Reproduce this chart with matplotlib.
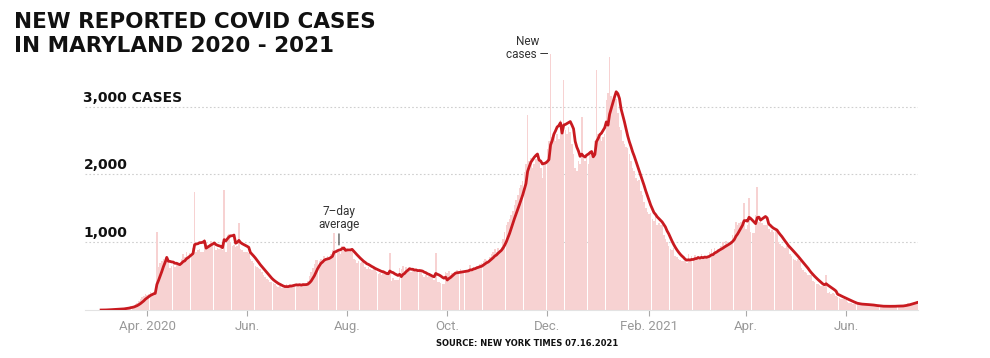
import matplotlib
matplotlib.use("Agg")
import matplotlib.pyplot as plt
import matplotlib.transforms as mtransforms
import pandas as pd

title = "NEW REPORTED COVID CASES\nIN MARYLAND 2020 - 2021"
source = "SOURCE: NEW YORK TIMES 07.16.2021"

start_date = "2020-03-04"

# daily new cases, one week per row
new_cases = [
    0, 0, 2, 3, 5, 10, 15,
    10, 12, 15, 14, 18, 20, 16,
    25, 35, 40, 45, 55, 60, 55,
    90, 110, 140, 160, 190, 200, 230,
    220, 240, 260, 250, 270, 250, 1150,
    640, 700, 720, 760, 690, 780, 750,
    620, 650, 700, 640, 690, 700, 690,
    760, 820, 780, 850, 800, 840, 820,
    920, 1740, 850, 880, 900, 850, 860,
    1050, 1000, 960, 980, 1020, 940, 980,
    880, 920, 900, 930, 890, 1770, 850,
    1100, 1120, 1000, 940, 960, 930, 950,
    1290, 900, 880, 850, 860, 850, 845,
    760, 720, 690, 650, 640, 620, 610,
    560, 520, 480, 460, 440, 420, 410,
    400, 380, 360, 340, 350, 330, 325,
    340, 380, 350, 390, 360, 370, 365,
    390, 360, 380, 350, 400, 370, 375,
    430, 500, 560, 620, 680, 740, 740,
    720, 760, 700, 800, 770, 790, 780,
    820, 880, 1130, 850, 870, 860, 820,
    950, 930, 880, 900, 860, 870, 875,
    760, 740, 700, 720, 690, 710, 720,
    640, 600, 630, 610, 590, 620, 615,
    560, 530, 550, 520, 560, 530, 530,
    500, 840, 430, 470, 440, 450, 440,
    620, 600, 650, 580, 630, 590, 600,
    560, 600, 570, 590, 560, 600, 580,
    520, 490, 510, 480, 500, 510, 490,
    450, 840, 420, 410, 400, 380, 390,
    560, 540, 570, 520, 550, 530, 545,
    590, 560, 600, 550, 580, 570, 575,
    610, 660, 600, 640, 620, 650, 630,
    680, 700, 720, 760, 740, 730, 780,
    820, 850, 900, 860, 920, 880, 930,
    1050, 1150, 1250, 1300, 1350, 1400, 1460,
    1550, 1620, 1700, 1800, 1850, 1900, 2040,
    2150, 2875, 2200, 2250, 2100, 2150, 2235,
    2300, 2250, 2100, 1950, 2150, 2200, 2380,
    2500, 3770, 2550, 2600, 2500, 2600, 2520,
    2800, 2700, 3390, 2650, 2600, 2700, 2620,
    2450, 2300, 2100, 2050, 2200, 2150, 2850,
    2250, 2200, 2300, 2150, 2350, 2270, 2300,
    2500, 3540, 2600, 2550, 2500, 2550, 2590,
    3100, 3200, 3740, 3150, 3100, 3130, 3120,
    2900, 2700, 2650, 2500, 2450, 2400, 2390,
    2300, 2200, 2100, 2050, 1950, 1900, 1920,
    1750, 1700, 1600, 1500, 1450, 1420, 1430,
    1350, 1320, 1400, 1250, 1280, 1250, 1250,
    1100, 1050, 1000, 950, 900, 880, 910,
    800, 780, 760, 740, 720, 730, 720,
    700, 820, 740, 790, 720, 810, 740,
    800, 760, 820, 750, 790, 780, 795,
    860, 900, 840, 920, 870, 900, 905,
    950, 1000, 960, 1020, 980, 1000, 1020,
    1100, 1200, 1300, 1250, 1280, 1300, 1320,
    1580, 1200, 1250, 1650, 1150, 1130, 1140,
    1400, 1820, 1300, 1350, 1280, 1250, 1260,
    1250, 1200, 1150, 1180, 1150, 1160, 1170,
    1000, 980, 950, 930, 920, 940, 930,
    820, 800, 760, 740, 730, 750, 720,
    620, 590, 560, 540, 520, 510, 510,
    430, 410, 390, 380, 370, 360, 355,
    340, 520, 250, 260, 240, 250, 240,
    200, 190, 180, 170, 160, 170, 155,
    120, 110, 100, 95, 90, 95, 90,
    85, 80, 75, 85, 80, 75, 80,
    70, 65, 60, 55, 60, 55, 55,
    50, 60, 55, 50, 60, 55, 55,
    55, 60, 65, 55, 60, 65, 60,
    80, 90, 100, 95, 110, 105, 120,
    130, 140,
]

tick_dates = ["2020-04-01", "2020-06-01", "2020-08-01", "2020-10-01",
              "2020-12-01", "2021-02-01", "2021-04-01", "2021-06-01"]
tick_labels = ["Apr. 2020", "Jun.", "Aug.", "Oct.", "Dec.", "Feb. 2021", "Apr.", "Jun."]

grid_values = [1000, 2000, 3000]
grid_labels = ["1,000", "2,000", "3,000 CASES"]

dates = pd.date_range(start_date, periods=len(new_cases), freq="D")
cases = pd.Series(new_cases, index=dates)
avg = cases.rolling(7, min_periods=1).mean()

head_font = ["DejaVu Sans"]
small_font = ["Roboto", "DejaVu Sans"]

fig = plt.figure(figsize=(9.9, 3.58), dpi=100)
ax = fig.add_axes([0.0859, 0.134, 0.8414, 0.754])

ax.bar(dates, cases.values, width=0.95, color="#f7d2d2", linewidth=0, zorder=1)
ax.plot(dates, avg.values, color="#c91a20", lw=2, zorder=3)

apr1 = pd.Timestamp("2020-04-01")
ax.set_xlim(apr1 - pd.Timedelta(days=37.8), apr1 + pd.Timedelta(days=470))
ax.set_ylim(0, 3982)

for v in grid_values:
    ax.axhline(v, color="#cfcfcf", lw=0.8, ls=(0, (1.5, 2)), zorder=0)

# labels sit just above their gridline, at the left edge
trans = mtransforms.blended_transform_factory(ax.transAxes, ax.transData)
for v, lab in zip(grid_values, grid_labels):
    ax.text(-0.002, v + 75, lab, transform=trans, ha="left", va="baseline",
            fontsize=10, fontweight="bold", family=head_font, color="#111111")

for s in ["top", "right", "left"]:
    ax.spines[s].set_visible(False)
ax.spines["bottom"].set_color("#e3e3e3")
ax.spines["bottom"].set_linewidth(0.8)

ax.set_yticks([])
ax.set_xticks(pd.to_datetime(tick_dates))
ax.set_xticklabels(tick_labels, family=small_font)
ax.tick_params(axis="x", length=4, width=0.8, color="#aaaaaa",
               labelcolor="#999999", labelsize=9.5, pad=3)

# annotations
ax.annotate("7\u2013day\naverage", xy=(pd.Timestamp("2020-08-01") - pd.Timedelta(days=5), 960),
            xytext=(0, 10), textcoords="offset points", ha="center", va="bottom",
            fontsize=8.5, family=small_font, color="#333333", linespacing=1.0,
            arrowprops=dict(arrowstyle="-", color="#333333", lw=0.8,
                            shrinkA=0, shrinkB=0))
ax.text(pd.Timestamp("2020-12-02"), 3680, "New\ncases \u2014", ha="right", va="bottom",
        fontsize=8.5, family=small_font, color="#333333", linespacing=1.0,
        multialignment="center")

fig.text(14 / 990, 1 - 12 / 358, title, ha="left", va="top", fontsize=15.5,
         fontweight="bold", family=head_font, color="#111111", linespacing=1.25)
fig.text(436 / 990, 1 - 344 / 358, source, ha="left", va="center", fontsize=6,
         fontweight="bold", family=head_font, color="#111111")

fig.savefig("out.png", dpi=100)
